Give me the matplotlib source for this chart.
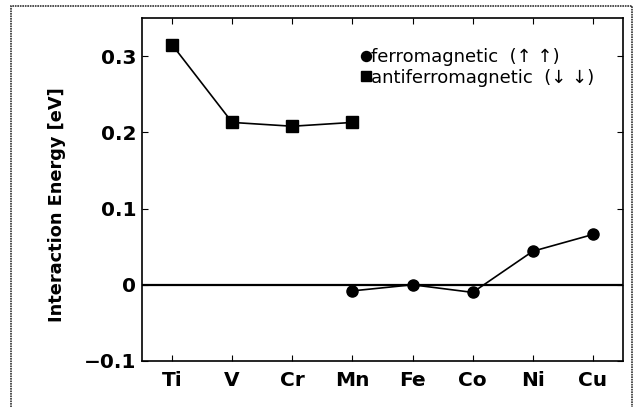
import numpy as np
import matplotlib.pyplot as plt
from matplotlib.patches import Rectangle

plt.rcParams['font.family'] = ['DejaVu Sans']

elements = ['Ti', 'V', 'Cr', 'Mn', 'Fe', 'Co', 'Ni', 'Cu']

# ferromagnetic: Mn .. Cu
fm_idx = [4, 5, 6, 7, 8]
fm_E = [-0.008, 0.000, -0.010, 0.044, 0.066]

# antiferromagnetic: Ti .. Mn
afm_idx = [1, 2, 3, 4]
afm_E = [0.315, 0.213, 0.208, 0.213]

fig = plt.figure(figsize=(6.38, 4.07), dpi=100)
ax = fig.add_axes([142/638, 1-361/407, (623-142)/638, (361-18)/407])

# outer frame
fig.patches.append(Rectangle((11/638, -0.02), (632-11)/638, 1-6/407+0.02,
                             transform=fig.transFigure, fill=False,
                             lw=1.2, ec='#333333', ls=(0, (1, 0.5))))

ax.axhline(0, color='black', lw=1.6, zorder=1)
ax.plot(fm_idx, fm_E, 'o-', color='black', ms=8, lw=1.2,
        label='ferromagnetic  (\u2191 \u2191)')
ax.plot(afm_idx, afm_E, 's-', color='black', ms=8, lw=1.2,
        label='antiferromagnetic  (\u2193 \u2193)')

ax.set_xlim(0.5, 8.5)
ax.set_ylim(-0.1, 0.35)
ax.set_xticks(np.arange(1, 9))
ax.set_xticklabels(elements, fontweight='bold')
ax.set_yticks([-0.1, 0, 0.1, 0.2, 0.3])
ax.set_yticklabels(['\u22120.1', '0', '0.1', '0.2', '0.3'], fontweight='bold')
ax.tick_params(direction='in', top=True, right=True, length=4, width=0.8,
               labelsize=14.5, pad=4)
ax.tick_params(axis='x', pad=7)
for s in ax.spines.values():
    s.set_linewidth(1.2)

ax.set_ylabel('Interaction Energy [eV]', fontsize=12.8, fontweight='bold')
ax.yaxis.set_label_coords(-0.157, 0.455)

leg = ax.legend(loc='upper left', bbox_to_anchor=(357/638, 1-39/407),
                bbox_transform=fig.transFigure, frameon=False, borderpad=0,
                handlelength=0, handletextpad=0.25, labelspacing=0.15,
                fontsize=13, markerscale=0.9)
for h in leg.legend_handles:
    h.set_linestyle('none')

fig.savefig('out.png', dpi=100)
